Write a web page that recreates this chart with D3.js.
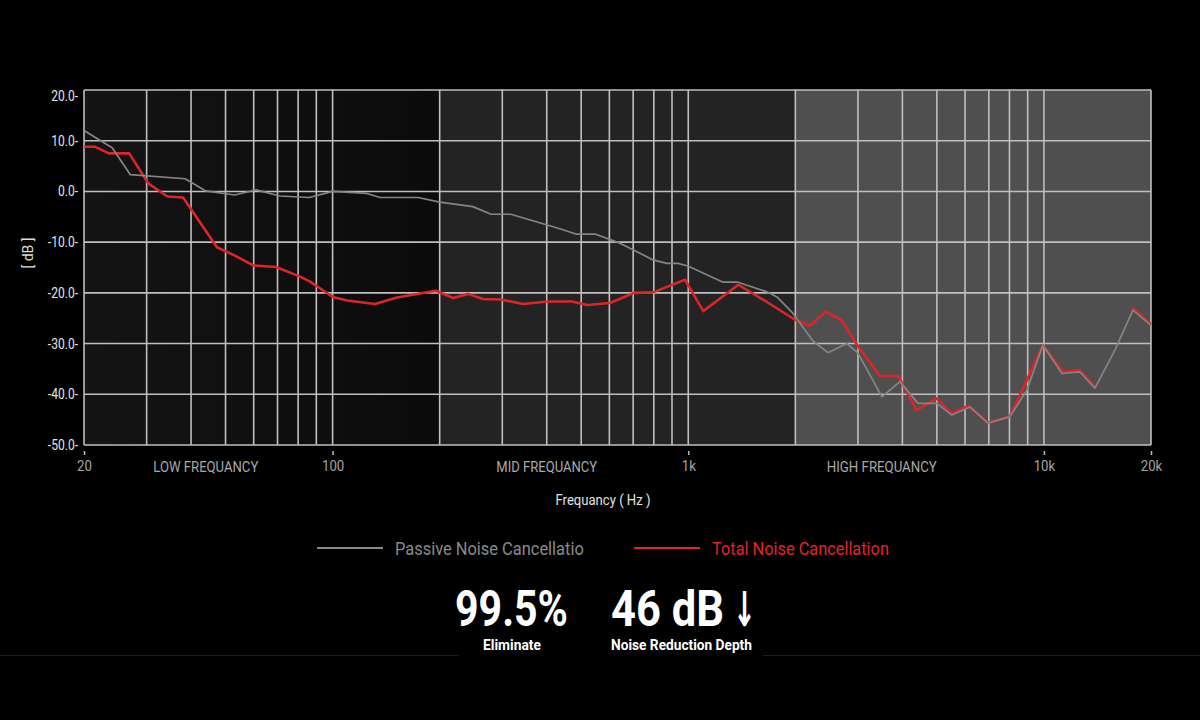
<!DOCTYPE html>
<html><head><meta charset="utf-8">
<script src="https://cdn.jsdelivr.net/npm/d3@7"></script>
<style>body{margin:0;background:#000;} svg{display:block;font-family:Roboto,"Liberation Sans",sans-serif;}</style>
</head><body><svg id="c" width="1200" height="720"></svg>
<script>
// ---- data ----
const passiveFreq = [20,24,27,38.5,44,53,61,71,86,100,125,136,174,200,248,279,317,433,483,547,647,796,871,935,998,1252,1379,1664,1776,1968,2242,2470,2794,3000,3504,3936,4424,5000,5512,6194,6958,8024,8954,9932,11234,12620,13912,15832,17790,20000];
const passiveDb = [12.0,8.6,3.3,2.5,0.1,-0.7,0.3,-0.9,-1.2,0.0,-0.4,-1.2,-1.2,-2.1,-3.0,-4.5,-4.5,-7.3,-8.4,-8.4,-10.3,-13.5,-14.2,-14.2,-14.7,-17.9,-17.9,-19.8,-20.8,-24.0,-29.5,-31.8,-30.0,-31.9,-40.5,-37.5,-41.8,-41.8,-44.1,-42.5,-45.7,-44.4,-39.2,-30.3,-35.9,-35.6,-38.8,-31.3,-23.4,-26.4];
const totalFreq = [20,21.5,23.5,26.8,30.3,34.3,38,41.9,47.3,52.6,59.8,69.3,81,86.4,92.1,100,109.8,131.6,151.7,195,218.4,240.6,264.6,297.4,343.6,403.2,470.8,520.7,602.3,703.6,797,979,1102,1382,1664,1995,2198,2438,2700,3005,3459,3894,4386,4994,5501,6127,6972,8024,8954,9932,11330,12620,13912,15000,17790,20000];
const totalDb = [8.8,8.8,7.5,7.5,1.6,-1.0,-1.2,-5.6,-11.0,-12.5,-14.6,-14.9,-16.8,-17.8,-19.1,-20.8,-21.5,-22.2,-20.9,-19.6,-21.0,-20.2,-21.2,-21.3,-22.2,-21.7,-21.7,-22.4,-22.0,-20.0,-19.9,-17.4,-23.6,-18.4,-21.8,-25.3,-26.5,-23.7,-25.4,-30.6,-36.4,-36.4,-43.1,-40.8,-43.8,-42.3,-45.6,-44.4,-37.2,-30.3,-35.6,-35.2,-38.5,null,-23.0,-26.2];
const yTicks = [20,10,0,-10,-20,-30,-40,-50];
const xTickValues = [20,100,1000,10000,20000];
const xTickLabels = ["20","100","1k","10k","20k"];
const gridFreqs = [20,30,40,50,60,70,80,90,100,200,300,400,500,600,700,800,900,1000,2000,3000,4000,5000,6000,7000,8000,9000,10000,20000];
const bandNames = ["LOW FREQUANCY","MID FREQUANCY","HIGH FREQUANCY"];
const bandStart = [20,200,2000];
const bandEnd = [200,2000,20000];
const bandLabelFreq = [44,400,3500];
const seriesNames = ["Passive Noise Cancellatio","Total Noise Cancellation"];
const statValues = ["99.5%","46 dB"];
const statArrows = ["","\u2193"];
const statLabels = ["Eliminate","Noise Reduction Depth"];

// ---- helpers ----
function fit(sel, w){ sel.attr("textLength", w).attr("lengthAdjust","spacingAndGlyphs"); }
function squeeze(sel, k){ sel.each(function(){ const L=this.getComputedTextLength(); this.setAttribute("textLength", L*k); this.setAttribute("lengthAdjust","spacingAndGlyphs"); }); }
// place a start-anchored text at (px,py) and scale it horizontally to a target width
function scaleFit(t, px, py, w){
  t.attr("x",0).attr("y",0);
  const L = t.node().getComputedTextLength();
  t.attr("transform",`translate(${px},${py}) scale(${w/L},1)`);
}

const svg = d3.select("#c");
svg.append("rect").attr("width",1200).attr("height",720).attr("fill","#000");

const x = d3.scaleLog().domain([20,20000]).range([84,1151]);
const y = d3.scaleLinear().domain([-50,20]).range([445,90]);

const defs = svg.append("defs");
const g1 = defs.append("linearGradient").attr("id","gLow").attr("x1","0").attr("x2","1");
g1.append("stop").attr("offset","0").attr("stop-color","#141414");
g1.append("stop").attr("offset","1").attr("stop-color","#0b0b0b");
const bandFills = ["url(#gLow)","#232323","#4f4f4f"];

// band backgrounds
svg.append("g").selectAll("rect").data(bandNames).join("rect")
  .attr("x",(d,i)=>x(bandStart[i])).attr("width",(d,i)=>x(bandEnd[i])-x(bandStart[i]))
  .attr("y",y(20)).attr("height",y(-50)-y(20))
  .attr("fill",(d,i)=>bandFills[i]);

// grid
const grid = svg.append("g").attr("stroke","#bfbfbf").attr("stroke-width",1.6);
grid.selectAll("line.v").data(gridFreqs).join("line").attr("class","v")
  .attr("x1",d=>x(d)).attr("x2",d=>x(d)).attr("y1",y(20)).attr("y2",y(-50));
grid.selectAll("line.h").data(yTicks).join("line").attr("class","h")
  .attr("x1",x(20)).attr("x2",x(20000)).attr("y1",d=>y(d)).attr("y2",d=>y(d));

// lines
const totalPts = totalFreq.map((f,i)=>({f, v:totalDb[i]}));
const passivePts = passiveFreq.map((f,i)=>({f, v:passiveDb[i]}));
const line = d3.line().defined(d=>d.v!==null).x(d=>x(d.f)).y(d=>y(d.v));
svg.append("path").datum(totalPts).attr("d",line).attr("fill","none")
  .attr("stroke","#dc252b").attr("stroke-width",2.6).attr("stroke-linejoin","round");
svg.append("path").datum(passivePts).attr("d",line).attr("fill","none")
  .attr("stroke","#858585").attr("stroke-width",1.7).attr("stroke-linejoin","round");

// y axis
const yAxis = svg.append("g").attr("transform","translate(78,0)")
  .call(d3.axisLeft(y).tickValues(yTicks).tickSize(0).tickPadding(0).tickFormat(d=>d.toFixed(1)+"-"));
yAxis.select(".domain").remove();
yAxis.selectAll("text").attr("fill","#e4e4e4").attr("font-size",14).attr("font-family","Roboto")
  .attr("y",d=>d===20?6:0);
squeeze(yAxis.selectAll("text"),0.86);

svg.append("text").attr("transform","translate(33,253) rotate(-90)").attr("text-anchor","middle")
  .attr("fill","#dddddd").attr("font-size",14).text("[ dB ]");

// x axis
const xAxis = svg.append("g").attr("transform","translate(0,451)")
  .call(d3.axisBottom(x).tickValues(xTickValues).tickSize(4).tickPadding(5)
    .tickFormat((d,i)=>xTickLabels[i]));
xAxis.select(".domain").remove();
xAxis.selectAll("line").attr("stroke","#bbbbbb").attr("stroke-width",1.5);
xAxis.selectAll("text").attr("fill","#a3a3a3").attr("font-size",15).attr("font-family","Roboto");
squeeze(xAxis.selectAll("text"),0.88);

const bandText = svg.append("g").selectAll("text").data(bandNames).join("text")
  .attr("x",(d,i)=>x(bandLabelFreq[i])).attr("y",472).attr("text-anchor","middle")
  .attr("fill","#a8a8a8").attr("font-size",15.5).text(d=>d);
bandText.each(function(d,i){ fit(d3.select(this),[105,101,110][i]); });

const xt = svg.append("text").attr("x",603).attr("y",505).attr("text-anchor","middle")
  .attr("fill","#e2e2e2").attr("font-size",14).text("Frequancy ( Hz )");
fit(xt,95);

// legend
const legColors = ["#8a8a8a","#e3232b"];
const legX = [317,634];
const legW = [189,177];
const leg = svg.append("g");
seriesNames.forEach((n,i)=>{
  leg.append("line").attr("x1",legX[i]).attr("x2",legX[i]+66).attr("y1",548).attr("y2",548)
    .attr("stroke",legColors[i]).attr("stroke-width",2);
  const t = leg.append("text").attr("fill",legColors[i]).attr("font-size",18).text(n);
  scaleFit(t, legX[i]+78, 554.5, legW[i]);
});

// bottom faint rule
svg.append("line").attr("x1",0).attr("x2",459).attr("y1",655.5).attr("y2",655.5).attr("stroke","#1c1c1c");
svg.append("line").attr("x1",763).attr("x2",1200).attr("y1",655.5).attr("y2",655.5).attr("stroke","#1c1c1c");

// stats
const statX = [455,611];
const statW = [113,113];
const labX = [483,611];
const labW = [58,141];
statValues.forEach((v,i)=>{
  const t = svg.append("text").attr("fill","#ffffff").attr("font-size",50).attr("font-weight",700).text(v);
  scaleFit(t, statX[i], 626, statW[i]);
  if (statArrows[i]) {
    const a = svg.append("text").attr("fill","#ffffff").attr("font-family","DejaVu Sans")
      .attr("font-size",48).attr("font-weight",700).text(statArrows[i]);
    scaleFit(a, statX[i]+statW[i]+9, 626, 23);
  }
  const l = svg.append("text").attr("fill","#ffffff").attr("font-size",15).attr("font-weight",700).text(statLabels[i]);
  scaleFit(l, labX[i], 650, labW[i]);
});
</script></body></html>
